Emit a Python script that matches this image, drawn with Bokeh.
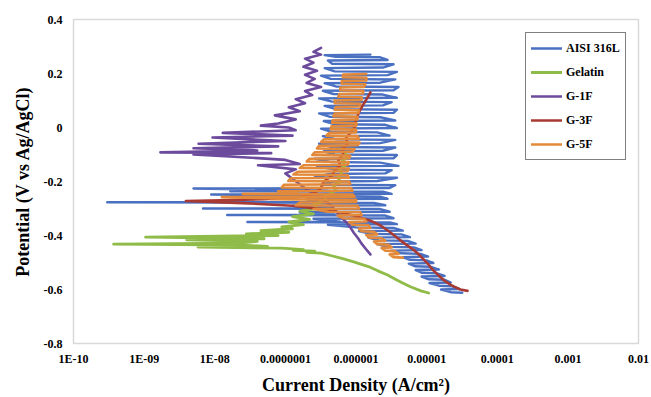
from bokeh.plotting import figure
from bokeh.models import (ColumnDataSource, FixedTicker, CustomJSTickFormatter,
                          Legend, LegendItem, Range1d)
from bokeh.embed import file_html
from bokeh.resources import INLINE

# ---------------- data: (potential V vs Ag/AgCl, current density A/cm2) ----------------
series_names = ["AISI 316L", "Gelatin", "G-1F", "G-3F", "G-5F"]
series_colors = ["#4a70c2", "#8fbb48", "#6c4a9c", "#a83a33", "#e38a3a"]

aisi_316l = [
    (-0.612, 3.2e-5), (-0.610, 2.2e-5), (-0.600, 1.6e-5), (-0.598, 2.9e-5),
    (-0.588, 2.3e-5), (-0.586, 1.5e-5), (-0.576, 1.1e-5), (-0.574, 2.2e-5),
    (-0.564, 1.8e-5), (-0.562, 1.05e-5), (-0.552, 8.5e-6), (-0.550, 1.8e-5),
    (-0.540, 1.4e-5), (-0.538, 8.5e-6), (-0.528, 7.0e-6), (-0.526, 1.5e-5),
    (-0.516, 1.15e-5), (-0.514, 6.8e-6), (-0.504, 5.6e-6), (-0.502, 1.25e-5),
    (-0.492, 1.0e-5), (-0.490, 5.8e-6), (-0.480, 4.6e-6), (-0.478, 1.05e-5),
    (-0.468, 8.2e-6), (-0.466, 4.4e-6), (-0.456, 3.2e-6), (-0.454, 8.5e-6),
    (-0.444, 6.6e-6), (-0.442, 2.8e-6), (-0.432, 2.0e-6), (-0.430, 7.0e-6),
    (-0.420, 5.4e-6), (-0.418, 2.1e-6), (-0.408, 1.5e-6), (-0.406, 5.8e-6),
    (-0.396, 4.4e-6), (-0.394, 1.6e-6), (-0.384, 1.1e-6), (-0.382, 4.6e-6),
    (-0.372, 3.4e-6), (-0.370, 1.0e-6), (-0.360, 4.0e-7), (-0.358, 3.8e-6),
    (-0.352, 3.0e-6), (-0.350, 2.9e-8), (-0.349, 6.0e-7), (-0.338, 2.5e-7),
    (-0.336, 3.4e-6), (-0.326, 2.6e-6), (-0.324, 1.5e-8), (-0.323, 5.0e-7),
    (-0.314, 1.6e-7), (-0.312, 3.0e-6), (-0.302, 2.2e-6), (-0.300, 6.8e-9),
    (-0.299, 4.5e-7), (-0.290, 1.26e-7), (-0.288, 2.6e-6), (-0.279, 1.8e-6),
    (-0.277, 3.0e-10), (-0.276, 4.0e-7), (-0.266, 2.0e-7), (-0.264, 2.8e-6),
    (-0.256, 2.2e-6), (-0.254, 3.5e-7), (-0.248, 8.9e-9), (-0.246, 3.2e-6),
    (-0.238, 2.4e-6), (-0.236, 1.66e-8), (-0.235, 4.0e-7), (-0.226, 5.0e-9),
    (-0.224, 3.0e-6), (-0.214, 3.6e-6), (-0.212, 3.2e-7), (-0.200, 4.8e-7),
    (-0.198, 2.0e-6), (-0.186, 3.8e-6), (-0.184, 2.6e-7), (-0.172, 4.2e-7),
    (-0.170, 2.6e-6), (-0.158, 3.2e-6), (-0.156, 5.0e-7), (-0.144, 2.8e-7),
    (-0.142, 4.0e-6), (-0.130, 2.2e-6), (-0.128, 4.5e-7), (-0.116, 2.6e-7),
    (-0.114, 3.4e-6), (-0.102, 3.8e-6), (-0.100, 5.0e-7), (-0.088, 3.5e-7),
    (-0.086, 2.4e-6), (-0.074, 3.6e-6), (-0.072, 4.4e-7), (-0.060, 3.0e-7),
    (-0.058, 2.2e-6), (-0.046, 3.6e-6), (-0.044, 5.2e-7), (-0.032, 3.4e-7),
    (-0.030, 3.0e-6), (-0.018, 2.0e-6), (-0.016, 4.5e-7), (-0.004, 3.2e-7),
    (-0.002, 3.8e-6), (0.010, 2.6e-6), (0.012, 5.0e-7), (0.024, 3.5e-7),
    (0.026, 3.6e-6), (0.038, 2.2e-6), (0.040, 4.2e-7), (0.052, 3.0e-7),
    (0.054, 3.4e-6), (0.066, 3.8e-6), (0.068, 5.2e-7), (0.080, 3.6e-7),
    (0.082, 2.4e-6), (0.094, 3.2e-6), (0.096, 4.6e-7), (0.108, 3.0e-7),
    (0.110, 3.8e-6), (0.122, 2.4e-6), (0.124, 4.8e-7), (0.136, 3.4e-7),
    (0.138, 3.4e-6), (0.150, 4.0e-6), (0.152, 5.2e-7), (0.164, 3.6e-7),
    (0.166, 2.2e-6), (0.178, 3.6e-6), (0.180, 4.4e-7), (0.192, 3.2e-7),
    (0.194, 2.8e-6), (0.206, 3.8e-6), (0.208, 5.0e-7), (0.220, 3.6e-7),
    (0.222, 2.4e-6), (0.234, 3.4e-6), (0.236, 4.6e-7), (0.248, 4.0e-7),
    (0.250, 2.8e-6), (0.260, 2.2e-6), (0.262, 5.2e-7), (0.268, 3.6e-7),
    (0.270, 1.6e-6),
]

gelatin = [
    (-0.613, 1.07e-5), (-0.605, 8.3e-6), (-0.590, 5.9e-6), (-0.575, 4.5e-6),
    (-0.560, 3.5e-6), (-0.546, 2.8e-6), (-0.530, 2.0e-6), (-0.515, 1.5e-6),
    (-0.498, 9.3e-7), (-0.485, 6.3e-7), (-0.475, 4.5e-7), (-0.465, 3.2e-7),
    (-0.462, 2.0e-7), (-0.458, 2.6e-7), (-0.455, 1.3e-7), (-0.452, 1.8e-7),
    (-0.447, 8.9e-8), (-0.443, 5.8e-9),
    (-0.440, 5.6e-8), (-0.436, 2.5e-8), (-0.432, 3.7e-10), (-0.428, 2.2e-8),
    (-0.422, 4.0e-8), (-0.416, 4.0e-9), (-0.412, 5.0e-8), (-0.406, 1.05e-9),
    (-0.400, 7.9e-8), (-0.394, 2.8e-8), (-0.388, 1.12e-7), (-0.382, 4.5e-8),
    (-0.375, 1.26e-7), (-0.368, 8.9e-8), (-0.360, 1.8e-7), (-0.350, 1.12e-7),
    (-0.340, 2.2e-7), (-0.330, 1.26e-7), (-0.320, 2.5e-7), (-0.310, 1.6e-7),
    (-0.300, 2.8e-7), (-0.285, 2.5e-7), (-0.270, 3.8e-7), (-0.255, 3.5e-7),
    (-0.245, 4.4e-7), (-0.230, 5.2e-7), (-0.215, 4.8e-7), (-0.200, 6.0e-7),
    (-0.185, 5.5e-7), (-0.170, 6.3e-7), (-0.155, 5.8e-7), (-0.140, 7.1e-7),
    (-0.125, 6.3e-7), (-0.110, 7.6e-7), (-0.095, 7.1e-7),
]

g_1f = [
    (-0.470, 1.6e-6), (-0.450, 1.38e-6), (-0.430, 1.2e-6), (-0.410, 1.07e-6),
    (-0.390, 9.3e-7), (-0.370, 8.3e-7), (-0.350, 7.2e-7), (-0.330, 6.0e-7),
    (-0.310, 5.2e-7), (-0.290, 4.5e-7), (-0.270, 3.5e-7), (-0.250, 2.8e-7),
    (-0.230, 2.0e-7), (-0.210, 1.6e-7), (-0.190, 1.26e-7), (-0.170, 1.0e-7),
    (-0.155, 1.4e-7), (-0.140, 4.1e-8), (-0.135, 1.6e-7), (-0.120, 1.0e-7),
    (-0.110, 2.5e-8), (-0.100, 5.0e-9), (-0.095, 6.3e-8), (-0.092, 1.7e-9),
    (-0.085, 4.0e-8), (-0.077, 5.0e-9), (-0.070, 7.9e-8), (-0.060, 5.9e-9),
    (-0.050, 1.0e-7), (-0.037, 9.3e-9), (-0.030, 1.26e-7), (-0.020, 1.3e-8),
    (-0.010, 1.4e-7), (0.000, 1.12e-7), (0.007, 4.5e-8), (0.015, 7.9e-8),
    (0.030, 1.4e-7), (0.045, 7.1e-8), (0.060, 1.6e-7), (0.075, 1.12e-7),
    (0.090, 1.9e-7), (0.105, 1.4e-7), (0.120, 2.4e-7), (0.135, 1.9e-7),
    (0.150, 3.2e-7), (0.165, 2.0e-7), (0.180, 2.6e-7), (0.195, 1.9e-7),
    (0.210, 2.8e-7), (0.225, 1.8e-7), (0.240, 2.5e-7), (0.255, 1.9e-7),
    (0.270, 3.2e-7), (0.280, 2.5e-7), (0.295, 3.2e-7),
]

g_3f = [
    (-0.605, 3.8e-5), (-0.600, 3.0e-5), (-0.590, 2.5e-5), (-0.583, 2.2e-5),
    (-0.565, 1.74e-5), (-0.546, 1.45e-5), (-0.525, 1.2e-5), (-0.502, 1.02e-5),
    (-0.478, 8.3e-6), (-0.454, 6.6e-6), (-0.432, 5.0e-6), (-0.410, 3.9e-6),
    (-0.385, 2.95e-6), (-0.362, 2.2e-6), (-0.345, 1.6e-6), (-0.325, 8.9e-7),
    (-0.305, 4.0e-7), (-0.290, 1.26e-7), (-0.280, 2.5e-8), (-0.272, 3.9e-9),
    (-0.266, 5.0e-8), (-0.258, 1.6e-7), (-0.245, 2.5e-7), (-0.225, 3.2e-7),
    (-0.200, 3.5e-7), (-0.180, 4.5e-7), (-0.160, 5.0e-7), (-0.140, 6.0e-7),
    (-0.120, 5.6e-7), (-0.100, 6.6e-7), (-0.080, 6.3e-7), (-0.060, 7.6e-7),
    (-0.040, 7.2e-7), (-0.020, 8.3e-7), (0.000, 9.5e-7), (0.030, 1.0e-6),
    (0.060, 1.12e-6), (0.090, 1.3e-6), (0.110, 1.45e-6), (0.130, 1.6e-6),
]

g_5f = [
    (-0.482, 4.6e-6), (-0.480, 3.4e-6), (-0.470, 3.0e-6), (-0.468, 4.0e-6),
    (-0.458, 3.6e-6), (-0.456, 2.6e-6), (-0.446, 2.3e-6), (-0.444, 3.2e-6),
    (-0.434, 2.9e-6), (-0.432, 2.0e-6), (-0.422, 1.8e-6), (-0.420, 2.6e-6),
    (-0.410, 2.3e-6), (-0.408, 1.55e-6), (-0.398, 1.4e-6), (-0.396, 2.0e-6),
    (-0.386, 1.8e-6), (-0.384, 1.2e-6), (-0.374, 1.1e-6), (-0.372, 1.6e-6),
    (-0.362, 1.5e-6), (-0.360, 9.0e-7), (-0.350, 8.0e-7), (-0.348, 1.4e-6),
    (-0.338, 1.3e-6), (-0.336, 6.5e-7), (-0.326, 5.5e-7), (-0.324, 1.2e-6),
    (-0.314, 1.15e-6), (-0.312, 4.0e-7), (-0.302, 2.5e-7), (-0.300, 1.1e-6),
    (-0.290, 1.05e-6), (-0.288, 1.4e-7), (-0.278, 1.6e-7), (-0.276, 1.0e-6),
    (-0.268, 1.0e-6), (-0.266, 6.3e-8), (-0.265, 2.0e-7), (-0.258, 1.26e-8),
    (-0.256, 9.5e-7), (-0.248, 9.0e-7), (-0.246, 2.5e-8), (-0.245, 1.5e-7),
    (-0.236, 7.9e-8), (-0.234, 8.9e-7), (-0.224, 8.5e-7), (-0.222, 8.9e-8),
    (-0.212, 9.5e-8), (-0.210, 8.3e-7), (-0.200, 8.0e-7), (-0.198, 1.1e-7),
    (-0.188, 1.2e-7), (-0.186, 7.9e-7), (-0.176, 7.6e-7), (-0.174, 1.3e-7),
    (-0.164, 1.5e-7), (-0.162, 7.6e-7), (-0.152, 7.9e-7), (-0.150, 1.6e-7),
    (-0.140, 1.8e-7), (-0.138, 7.6e-7), (-0.128, 7.9e-7), (-0.126, 2.0e-7),
    (-0.116, 2.2e-7), (-0.114, 8.0e-7), (-0.104, 8.3e-7), (-0.102, 2.4e-7),
    (-0.092, 2.6e-7), (-0.090, 8.9e-7), (-0.080, 9.5e-7), (-0.078, 2.8e-7),
    (-0.068, 3.0e-7), (-0.066, 1.05e-6), (-0.056, 1.12e-6), (-0.054, 3.2e-7),
    (-0.044, 3.5e-7), (-0.042, 1.1e-6), (-0.032, 1.05e-6), (-0.030, 3.8e-7),
    (-0.020, 4.2e-7), (-0.018, 1.0e-6), (-0.008, 1.0e-6), (-0.006, 4.4e-7),
    (0.004, 4.5e-7), (0.006, 1.0e-6), (0.016, 1.02e-6), (0.018, 4.6e-7),
    (0.028, 4.7e-7), (0.030, 1.05e-6), (0.040, 1.05e-6), (0.042, 4.8e-7),
    (0.052, 5.0e-7), (0.054, 1.08e-6), (0.064, 1.1e-6), (0.066, 5.0e-7),
    (0.076, 5.2e-7), (0.078, 1.12e-6), (0.088, 1.15e-6), (0.090, 5.0e-7),
    (0.100, 5.0e-7), (0.102, 1.2e-6), (0.112, 1.2e-6), (0.114, 5.6e-7),
    (0.124, 5.8e-7), (0.126, 1.26e-6), (0.136, 1.26e-6), (0.138, 6.0e-7),
    (0.148, 6.0e-7), (0.150, 1.3e-6), (0.160, 1.35e-6), (0.162, 6.3e-7),
    (0.172, 6.3e-7), (0.174, 1.4e-6), (0.184, 1.4e-6), (0.186, 6.5e-7),
    (0.196, 6.6e-7), (0.198, 1.4e-6),
]

x_tick_values = [1e-10, 1e-9, 1e-8, 1e-7, 1e-6, 1e-5, 1e-4, 1e-3, 1e-2]
x_tick_labels = ["1E-10", "1E-09", "1E-08", "0.0000001", "0.000001", "0.00001",
                 "0.0001", "0.001", "0.01"]
y_tick_values = [-0.8, -0.6, -0.4, -0.2, 0.0, 0.2, 0.4]
y_tick_labels = ["-0.8", "-0.6", "-0.4", "-0.2", "0", "0.2", "0.4"]

series_data = [aisi_316l, gelatin, g_1f, g_3f, g_5f]
series_widths = [2.4, 2.8, 2.6, 2.6, 2.6]

# ---------------- figure ----------------
FONT = "Liberation Serif"
p = figure(width=651, height=397, x_axis_type="log",
           x_range=Range1d(1e-10, 1e-2), y_range=Range1d(-0.8, 0.4),
           output_backend="svg", toolbar_location=None,
           min_border_left=73, min_border_right=13, min_border_top=19, min_border_bottom=53)
p.background_fill_color = "white"
p.border_fill_color = "white"
p.outline_line_color = "#d9d9d9"
p.outline_line_width = 1.5
p.grid.visible = False

for ax in (p.xaxis[0], p.yaxis[0]):
    ax.axis_line_color = None
    ax.major_tick_line_color = None
    ax.minor_tick_line_color = None
    ax.major_tick_out = 0
    ax.major_tick_in = 0
    ax.minor_tick_out = 0
    ax.major_label_text_font = FONT
    ax.major_label_text_font_style = "bold"
    ax.major_label_text_font_size = "12px"
    ax.major_label_text_color = "black"
    ax.axis_label_text_font = FONT
    ax.axis_label_text_font_style = "bold"
    ax.axis_label_text_font_size = "18px"
    ax.axis_label_text_color = "black"

p.xaxis[0].ticker = FixedTicker(ticks=x_tick_values)
p.xaxis[0].formatter = CustomJSTickFormatter(
    args=dict(labels=x_tick_labels),
    code="const k = Math.round(Math.log10(tick)) + 10; return labels[k];")
p.xaxis[0].major_label_standoff = 8
p.xaxis[0].axis_label = "Current Density (A/cm²)"
p.xaxis[0].axis_label_standoff = 6

p.yaxis[0].ticker = FixedTicker(ticks=y_tick_values)
p.yaxis[0].formatter = CustomJSTickFormatter(
    args=dict(vals=y_tick_values, labels=y_tick_labels),
    code="let best = 0; for (let i = 0; i < vals.length; i++) { if (Math.abs(vals[i]-tick) < Math.abs(vals[best]-tick)) best = i; } return labels[best];")
p.yaxis[0].major_label_standoff = 11
p.yaxis[0].axis_label = "Potential (V vs Ag/AgCl)"
p.yaxis[0].axis_label_standoff = 8

items = []
for name, color, data, lw in zip(series_names, series_colors, series_data, series_widths):
    src = ColumnDataSource(dict(x=[d[1] for d in data], y=[d[0] for d in data]))
    r = p.line("x", "y", source=src, line_color=color, line_width=lw,
               line_join="round", line_cap="round")
    items.append(LegendItem(label=name, renderers=[r]))

legend = Legend(items=items, location=(452, 183))
legend.border_line_color = "black"
legend.border_line_width = 1
legend.background_fill_color = "white"
legend.background_fill_alpha = 1
legend.label_text_font = FONT
legend.label_text_font_style = "bold"
legend.label_text_font_size = "12px"
legend.label_text_color = "black"
legend.glyph_width = 31
legend.glyph_height = 20
legend.label_height = 20
legend.spacing = 4
legend.padding = 5
legend.label_standoff = 4
legend.margin = 0
p.add_layout(legend)

open("out.html", "w").write(file_html(p, INLINE))
